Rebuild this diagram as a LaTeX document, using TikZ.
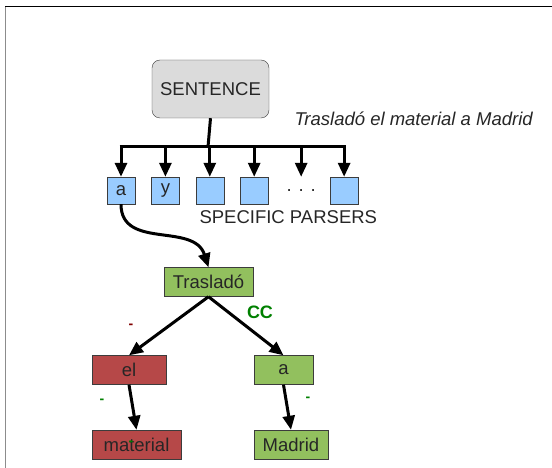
\documentclass[tikz,border=0pt]{standalone}
\usepackage{fontspec}
\setmainfont{Liberation Sans}
\usetikzlibrary{arrows.meta,positioning}
\definecolor{parserblue}{RGB}{153,204,255}
\definecolor{keepgreen}{RGB}{146,192,94}
\definecolor{dropred}{RGB}{182,72,72}
\definecolor{boxline}{RGB}{60,60,60}
\definecolor{labelgreen}{RGB}{0,128,0}
\definecolor{labelred}{RGB}{128,0,0}

\begin{document}
\begin{tikzpicture}[x=1pt,y=-1pt,
		every node/.style={font=\fontsize{18.5}{22}\selectfont, text=black!85},
		wire/.style={line width=3pt},
		link/.style={line width=3pt, -{Triangle[length=14pt, width=12pt]}},
		sentbox/.style={draw=boxline, fill=black!14, rounded corners=8pt,
			minimum width=117pt, minimum height=58pt, inner sep=0pt},
		parser/.style={draw=boxline, fill=parserblue,
			minimum width=28pt, minimum height=27pt, inner sep=0pt},
		wordbox/.style={draw=boxline, minimum height=29pt, inner sep=0pt},
		keep/.style={wordbox, fill=keepgreen},
		drop/.style={wordbox, fill=dropred},
		tag/.style={font=\fontsize{14}{14}\selectfont\bfseries},
	]
		\newcommand\pgap{16pt}
		\newcommand\lvl{88pt}
		\newcommand\sub{74.5pt}
		\useasboundingbox (0,0) rectangle (552,468);
		% frame
		\draw[black, line width=1pt] (5,7) -- (552,7);
		\draw[black!45, line width=1.5pt] (5.5,7) -- (5.5,468);

		\node[sentbox] (sent) at (210.5,89) {SENTENCE};
		\node[font=\fontsize{18.5}{22}\selectfont\itshape, anchor=west] (phrase) at (291,119)
			{Trasladó el material a Madrid};

		% specific parsers
		\node[parser] (p1) at (121,190.5) {a};
		\node[parser, right=\pgap of p1] (p2) {y};
		\node[parser, right=\pgap of p2] (p3) {};
		\node[parser, right=\pgap of p3] (p4) {};
		\node[minimum width=28pt, minimum height=27pt, inner sep=0pt,
			right=18pt of p4] (pdots) {. . .};
		\node[parser, right=14pt of pdots] (p6) {};
		\node[anchor=north west] (plabel) at (196,207) {SPECIFIC PARSERS};

		\coordinate (hub) at (208,147);
		\draw[wire] (sent.south) -- (hub);
		\draw[wire] ([xshift=-1.5pt]p1 |- hub) -- ([xshift=1.5pt]p6 |- hub);
		\foreach \p in {p1,p2,p3,p4,pdots,p6}
			\draw[link] (\p |- hub) -- (\p.north);

		% parse tree
		\node[keep, minimum width=89pt] (tras) at (208.5,282) {Trasladó};
		\node[drop, minimum width=74pt, on grid, below left=\lvl and 79.5pt of tras] (el) {el};
		\node[keep, minimum width=59pt, on grid, below right=\lvl and 75pt of tras] (prep) {a};
		\node[drop, minimum width=89pt, on grid, below right=\sub and 7.5pt of el] (mat) {material};
		\node[keep, minimum width=74pt, on grid, below right=\sub and 7.5pt of prep] (madrid) {Madrid};

		\draw[link] (p1.south) .. controls (121,250) and (194,222) .. (tras.north);
		\draw[link] (tras.south) -- (el.north);
		\draw[link] (tras.south) -- (prep.north);
		\draw[link] (el.south) -- (mat.north);
		\draw[link] (prep.south) -- (madrid.north);

		% relation tags
		\node[tag, text=labelgreen, font=\fontsize{18}{18}\selectfont\bfseries] (cc) at (260,312) {CC};
		\node[tag, text=labelred] (tagel) at (131,326) {-};
		\node[tag, text=labelgreen] (tagmat) at (102,401) {-};
		\node[tag, text=labelgreen] (tagmad) at (308,399) {-};
		\node[tag, text=labelgreen] (tagin) at (131,443) {-};
\end{tikzpicture}
\end{document}
